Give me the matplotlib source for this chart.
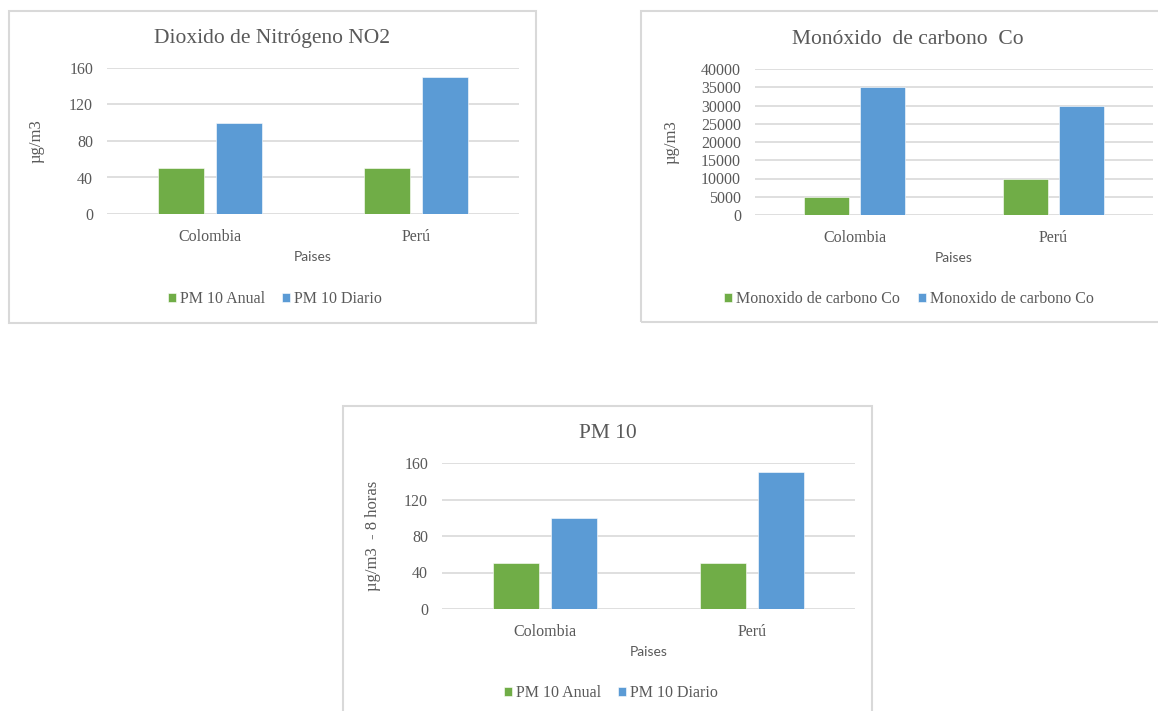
import matplotlib
matplotlib.use("Agg")
import matplotlib.pyplot as plt
from matplotlib.patches import Rectangle

plt.rcParams['font.family'] = ['Liberation Serif', 'DejaVu Serif']

W, H = 1158, 711
GREEN = '#70AD47'
BLUE = '#5B9BD5'
GRID = '#D9D9D9'
TXT = '#595959'

paises = ['Colombia', 'Perú']

# dioxido de nitrogeno
no2_anual = [50, 50]
no2_diario = [100, 150]
no2_labels = ['PM 10 Anual', 'PM 10 Diario']

# monoxido de carbono
co_a = [5000, 10000]
co_b = [35000, 30000]
co_labels = ['Monoxido de carbono Co', 'Monoxido de carbono Co']

# pm 10
pm_anual = [50, 50]
pm_diario = [100, 150]
pm_labels = ['PM 10 Anual', 'PM 10 Diario']

fig = plt.figure(figsize=(W / 100, H / 100), dpi=100)


def box(x0, y0, x1, y1):
    fig.patches.append(Rectangle((x0 / W, 1 - y1 / H), (x1 - x0) / W, (y1 - y0) / H,
                                 transform=fig.transFigure, fill=False,
                                 edgecolor=GRID, linewidth=1.5))


def chart(frame, plot, title, s1, s2, labels, ymax, step, ylabel, ylab_x, leg_xy):
    x0, y0, x1, y1 = plot
    box(*frame)
    ax = fig.add_axes([x0 / W, 1 - y1 / H, (x1 - x0) / W, (y1 - y0) / H])
    pos = range(len(paises))
    w, off = 0.223, 0.141
    ax.bar([p - off for p in pos], s1, w, color=GREEN, label=labels[0], zorder=3,
           edgecolor='#ffffff', linewidth=0.4)
    ax.bar([p + off for p in pos], s2, w, color=BLUE, label=labels[1], zorder=3,
           edgecolor='#ffffff', linewidth=0.4)
    ax.set_xlim(-0.5, len(paises) - 0.5)
    ax.set_ylim(0, ymax)
    ax.set_yticks(range(0, ymax + 1, step))
    ax.set_xticks(list(pos))
    ax.set_xticklabels(paises)
    ax.tick_params(length=0, labelsize=11.5, colors=TXT)
    ax.tick_params(axis='x', pad=10.5)
    ax.tick_params(axis='y', pad=10)
    for s in ax.spines.values():
        s.set_visible(False)
    ax.yaxis.grid(True, color=GRID, linewidth=1.2, zorder=0)
    ax.set_axisbelow(True)
    ax.set_ylabel(ylabel, fontsize=12, color=TXT, va='center')
    ax.yaxis.set_label_coords((ylab_x - x0) / (x1 - x0), 0.5)
    ax.set_xlabel('Paises', fontsize=10, color=TXT, family='Lato', va='center')
    ax.xaxis.set_label_coords(0.5, -43 / (y1 - y0))
    fx = (frame[0] + frame[2]) / 2
    fig.text(fx / W, 1 - (frame[1] + 28) / H, title, ha='center', va='center',
             fontsize=15.5, color=TXT)
    leg = ax.legend(loc='center', bbox_to_anchor=(leg_xy[0] / W, 1 - leg_xy[1] / H),
                    bbox_transform=fig.transFigure, ncol=2, frameon=False,
                    fontsize=11.5, handlelength=0.5, handleheight=0.5,
                    handletextpad=0.25, columnspacing=1.1)
    for t in leg.get_texts():
        t.set_color(TXT)
    return ax


chart((9, 11, 536, 323), (107, 68, 519, 214), 'Dioxido de Nitrógeno NO2',
      no2_anual, no2_diario, no2_labels, 160, 40, 'µg/m3', 37, (275, 299))
chart((641, 11, 1175, 322), (755, 69, 1153, 215), 'Monóxido  de carbono  Co',
      co_a, co_b, co_labels, 40000, 5000, 'µg/m3', 672, (909, 299))
chart((343, 406, 872, 720), (442, 463, 855, 609), 'PM 10',
      pm_anual, pm_diario, pm_labels, 160, 40, 'µg/m3  - 8 horas', 373, (611, 693))

fig.savefig('out.png', dpi=100, facecolor='white')
